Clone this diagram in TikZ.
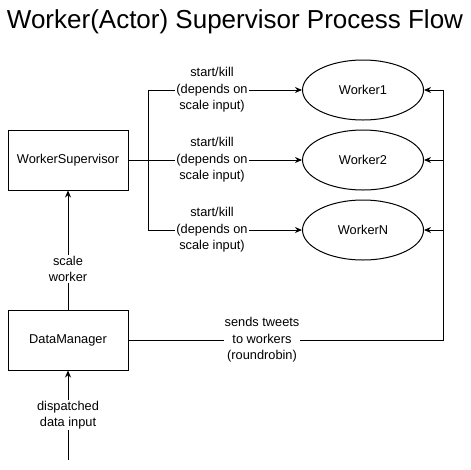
\documentclass[tikz,border=0pt]{standalone}
\usepackage{fontspec}
\setmainfont{Liberation Sans}
\usetikzlibrary{arrows.meta,shapes.geometric}

\tikzset{
    box/.style={draw, minimum width=120pt, minimum height=60pt, inner sep=0pt,
        font=\fontsize{12.8}{16.5}\selectfont},
    worker/.style={draw, ellipse, minimum width=121pt, minimum height=60pt, inner sep=0pt,
        font=\fontsize{12.8}{16.5}\selectfont},
    lbl/.style={fill=white, align=center, inner sep=1pt,
        font=\fontsize{12.8}{16.5}\selectfont},
    flow/.style={-{Stealth[length=7pt,width=6pt]}},
}

\begin{document}
\begin{tikzpicture}[x=1pt, y=-1pt, line width=1pt]
    \useasboundingbox (0,0) rectangle (471,469);
    \node[font=\fontsize{26}{30}\selectfont] (title) at (235,22) {Worker(Actor) Supervisor Process Flow};

    \node[box] (ws) at (68,160) {WorkerSupervisor};
    \node[box] (dm) at (68,340) {DataManager};
    \node[worker] (w1) at (363,90) {Worker1};
    \node[worker] (w2) at (363,160) {Worker2};
    \node[worker] (wn) at (363,230) {WorkerN};

    \coordinate (split) at (148,160);
    \coordinate (bus) at (443,340);
    \coordinate (r1) at (443,90);
    \coordinate (r2) at (443,160);
    \coordinate (r3) at (443,230);
    \coordinate (in) at (68,460);

    % supervisor -> workers
    \draw (ws) -- (split);
    \draw[flow] (split) |- (w1);
    \draw[flow] (split) -- (w2);
    \draw[flow] (split) |- (wn);
    % manager -> workers
    \draw (dm) -- (bus) -- (r1);
    \draw[flow] (r1) -- (w1);
    \draw[flow] (r2) -- (w2);
    \draw[flow] (r3) -- (wn);
    % manager -> supervisor, input -> manager
    \draw[flow] (dm) -- (ws);
    \draw[flow] (in) -- (dm);

    \node[lbl] (l1) at (212,90) {start/kill\\(depends on\\scale input)};
    \node[lbl] (l2) at (212,160) {start/kill\\(depends on\\scale input)};
    \node[lbl] (l3) at (212,230) {start/kill\\(depends on\\scale input)};
    \node[lbl] (lt) at (262,340) {sends tweets\\to workers\\(roundrobin)};
    \node[lbl] (ls) at (68,269) {scale\\worker};
    \node[lbl] (ld) at (68,415) {dispatched\\data input};
\end{tikzpicture}
\end{document}
